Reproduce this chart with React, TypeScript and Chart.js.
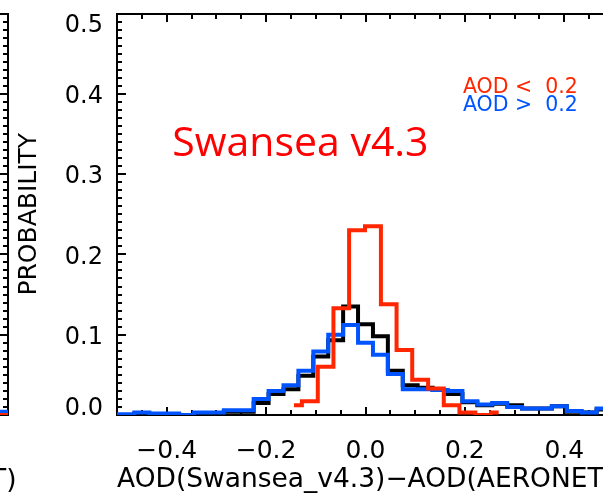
import React, { useEffect, useRef } from 'react';
import { Chart, registerables } from 'chart.js';

Chart.register(...registerables);

// ---------------- data ----------------
const xRange = [-0.5, 0.5];
const yRange = [0, 0.5];
const xTickValues = [-0.4, -0.2, 0.0, 0.2, 0.4];
const yTickValues = [0.0, 0.1, 0.2, 0.3, 0.4, 0.5];
const xMinorStep = 0.05;
const xMajorStep = 0.2;
const yMinorStep = 0.01;
const yMajorStep = 0.1;

// bin centres shared by the "all" (black) and "AOD > 0.2" (blue) histograms
const allBins = [
  -0.51, -0.48, -0.45, -0.42, -0.39, -0.36, -0.33, -0.30, -0.27, -0.24, -0.21, -0.18,
  -0.15, -0.12, -0.09, -0.06, -0.03, 0.00, 0.03, 0.06, 0.09, 0.12, 0.15, 0.18, 0.21,
  0.24, 0.27, 0.30, 0.33, 0.36, 0.39, 0.42, 0.45, 0.48,
];
const allValues = [
  0.000, 0.000, 0.002, 0.001, 0.001, 0.000, 0.002, 0.002, 0.004, 0.004, 0.015, 0.026,
  0.032, 0.049, 0.073, 0.093, 0.135, 0.113, 0.098, 0.055, 0.037, 0.034, 0.031, 0.026, 0.016,
  0.012, 0.014, 0.012, 0.008, 0.008, 0.011, 0.004, 0.003, 0.007,
];
const highValues = [
  0.001, 0.001, 0.003, 0.002, 0.002, 0.000, 0.003, 0.003, 0.006, 0.006, 0.020, 0.030,
  0.037, 0.055, 0.079, 0.100, 0.112, 0.090, 0.075, 0.051, 0.032, 0.032, 0.031, 0.030, 0.017,
  0.013, 0.015, 0.010, 0.008, 0.008, 0.011, 0.005, 0.003, 0.008,
];
// "AOD < 0.2" (red) histogram
const lowBins = [
  -0.144, -0.112, -0.080, -0.049, -0.017, 0.015, 0.047, 0.078, 0.110, 0.142, 0.173, 0.205, 0.237, 0.268,
];
const lowValues = [
  0.012, 0.017, 0.060, 0.133, 0.230, 0.235, 0.138, 0.081, 0.044, 0.033, 0.012, 0.003, 0.000, 0.003,
];

// previous panel: only its right edge is inside the picture
const prevBins = [0.48, 0.51];
const prevLowValues = [0.0, 0.0];
const prevHighValues = [0.004, 0.004];

const xTitleText = 'AOD(Swansea_v4.3)\u2212AOD(AERONET)';
const prevXTitleText = 'AOD(Swansea_v4.21)\u2212AOD(AERONET)';
const yTitleText = 'PROBABILITY';
const lowLabel = 'AOD <  0.2';
const highLabel = 'AOD >  0.2';
const panelLabel = 'Swansea v4.3';

// ---------------- styles ----------------
const RED = 'rgb(255,38,0)';
const BLUE = 'rgb(0,84,255)';
const BLACK = '#000000';
const FONT = '"DejaVu Sans", sans-serif';
const CANVAS_W = 660;
const CANVAS_H = 496;

const fmt = (v: number) => {
  const s = Math.abs(v).toFixed(1);
  return v < -1e-9 ? '\u2212' + s : s;
};

const zeroPadding = (s: any) => {
  s.paddingTop = 0;
  s.paddingBottom = 0;
  s.paddingLeft = 0;
  s.paddingRight = 0;
};

const isMultiple = (v: number, step: number) => {
  const r = v / step;
  return Math.abs(r - Math.round(r)) < 1e-6;
};

const minorValues = (range: number[], step: number) => {
  const out: number[] = [];
  const n = Math.round((range[1] - range[0]) / step);
  for (let i = 1; i < n; i++) out.push(range[0] + i * step);
  return out;
};

type Note = { text: string; x: number; y: number; color: string; font: string; align: CanvasTextAlign };

const drawFrame = (chart: any) => {
  const { ctx, chartArea } = chart;
  const L = Math.round(chartArea.left);
  const T = Math.round(chartArea.top);
  const R = Math.round(chartArea.right);
  const B = Math.round(chartArea.bottom);
  const xs = chart.scales.x;
  const ys = chart.scales.y;
  ctx.save();
  ctx.fillStyle = BLACK;
  ctx.fillRect(L - 1, T - 1, R - L + 2, 2);
  ctx.fillRect(L - 1, B - 1, R - L + 2, 2);
  ctx.fillRect(L - 1, T - 1, 2, B - T + 2);
  ctx.fillRect(R - 1, T - 1, 2, B - T + 2);
  minorValues(xRange, xMinorStep).forEach((v) => {
    const len = isMultiple(v, xMajorStep) ? 8 : 5;
    const px = Math.round(xs.getPixelForValue(v));
    ctx.fillRect(px - 1, B - len, 2, len);
    ctx.fillRect(px - 1, T, 2, len);
  });
  minorValues(yRange, yMinorStep).forEach((v) => {
    const len = isMultiple(v, yMajorStep) ? 9 : 5;
    const py = Math.round(ys.getPixelForValue(v));
    ctx.fillRect(L, py - 1, len, 2);
    ctx.fillRect(R - len, py - 1, len, 2);
  });
  ctx.restore();
};

const drawNotes = (chart: any, notes: Note[]) => {
  const { ctx, scales } = chart;
  ctx.save();
  notes.forEach((n) => {
    ctx.font = n.font;
    ctx.fillStyle = n.color;
    ctx.textAlign = n.align;
    ctx.textBaseline = 'alphabetic';
    ctx.fillText(n.text, scales.x.getPixelForValue(n.x), scales.y.getPixelForValue(n.y));
  });
  ctx.restore();
};

// one plugin object per chart: IDL-style box with inward ticks, plus free text
const makeDecorPlugin = (notes: Note[]) => ({
  id: 'idlDecor',
  beforeDatasetsDraw(chart: any) {
    drawFrame(chart);
  },
  afterDatasetsDraw(chart: any) {
    drawNotes(chart, notes);
  },
});

type Series = { label: string; color: string; xs: number[]; ys: number[] };

function Panel({ left, series, xTitle, notes }: { left: number; series: Series[]; xTitle: string; notes: Note[] }) {
  const ref = useRef<HTMLCanvasElement>(null);
  useEffect(() => {
    const canvas = ref.current;
    if (!canvas) return;
    const chart = new Chart(canvas, {
      type: 'line',
      data: {
        datasets: series.map((s) => ({
          label: s.label,
          data: s.xs.map((x, i) => ({ x, y: s.ys[i] })),
          borderColor: s.color,
          backgroundColor: s.color,
          borderWidth: 4,
          stepped: 'middle',
          pointRadius: 0,
          fill: false,
          borderJoinStyle: 'miter',
          borderCapStyle: 'butt',
        })),
      },
      options: {
        responsive: false,
        animation: false,
        events: [],
        layout: { padding: { left: 0, right: 46, top: 13.5, bottom: 0 } },
        plugins: { legend: { display: false }, tooltip: { enabled: false }, title: { display: false } },
        scales: {
          x: {
            type: 'linear',
            min: xRange[0],
            max: xRange[1],
            afterBuildTicks: (s: any) => {
              s.ticks = xTickValues.map((v) => ({ value: v }));
            },
            afterFit: (s: any) => {
              s.height = 81;
              zeroPadding(s);
            },
            grid: { display: false, drawTicks: false },
            border: { display: false },
            ticks: {
              padding: 21,
              color: BLACK,
              autoSkip: false,
              maxRotation: 0,
              font: { family: FONT, size: 25 },
              callback: (v: any) => fmt(Number(v)),
            },
            title: {
              display: xTitle !== '',
              text: xTitle,
              color: BLACK,
              font: { family: FONT, size: 26.5 },
              padding: { top: 0, bottom: 0 },
            },
          },
          y: {
            type: 'linear',
            min: yRange[0],
            max: yRange[1],
            afterBuildTicks: (s: any) => {
              s.ticks = yTickValues.map((v) => ({ value: v }));
            },
            afterFit: (s: any) => {
              s.width = 117;
              zeroPadding(s);
            },
            grid: { display: false, drawTicks: false },
            border: { display: false },
            ticks: {
              padding: 14,
              labelOffset: 3,
              color: BLACK,
              autoSkip: false,
              font: { family: FONT, size: 24, lineHeight: 0.75 },
              callback: (v: any) => {
                const n = Number(v);
                const s = n.toFixed(1);
                if (Math.abs(n - yRange[1]) < 1e-9) return ['', s];
                if (Math.abs(n - yRange[0]) < 1e-9) return [s, ''];
                return s;
              },
            },
            title: {
              display: true,
              text: yTitleText,
              color: BLACK,
              font: { family: FONT, size: 25 },
              padding: { top: 14, bottom: 0 },
            },
          },
        },
      },
      plugins: [makeDecorPlugin(notes)],
    } as any);
    return () => chart.destroy();
  }, []);
  return (
    <canvas
      ref={ref}
      width={CANVAS_W}
      height={CANVAS_H}
      style={{ position: 'absolute', left, top: 0, width: CANVAS_W, height: CANVAS_H }}
    />
  );
}

const mainSeries: Series[] = [
  { label: 'AOD < 0.2', color: RED, xs: lowBins, ys: lowValues },
  { label: 'AOD > 0.2', color: BLUE, xs: allBins, ys: highValues },
  { label: 'All', color: BLACK, xs: allBins, ys: allValues },
];

const prevSeries: Series[] = [
  { label: 'AOD < 0.2', color: RED, xs: prevBins, ys: prevLowValues },
  { label: 'AOD > 0.2', color: BLUE, xs: prevBins, ys: prevHighValues },
];

const mainNotes: Note[] = [
  { text: panelLabel, x: -0.131, y: 0.322, color: '#ff0000', font: '41px "Open Sans", sans-serif', align: 'center' },
  { text: lowLabel, x: 0.196, y: 0.4006, color: RED, font: `20.5px ${FONT}`, align: 'left' },
  { text: highLabel, x: 0.196, y: 0.379, color: BLUE, font: `20.5px ${FONT}`, align: 'left' },
];

// the previous panel's axis title is wider than its axis, so it is drawn as free text
const prevNotes: Note[] = [
  { text: prevXTitleText, x: 0.0, y: -0.0905, color: BLACK, font: `26.5px ${FONT}`, align: 'center' },
];

export default function App() {
  return (
    <div
      style={{
        position: 'fixed',
        left: 0,
        top: 0,
        width: 603,
        height: 496,
        overflow: 'hidden',
        background: '#ffffff',
      }}
    >
      <Panel left={-606} series={prevSeries} xTitle="" notes={prevNotes} />
      <Panel left={0} series={mainSeries} xTitle={xTitleText} notes={mainNotes} />
    </div>
  );
}
